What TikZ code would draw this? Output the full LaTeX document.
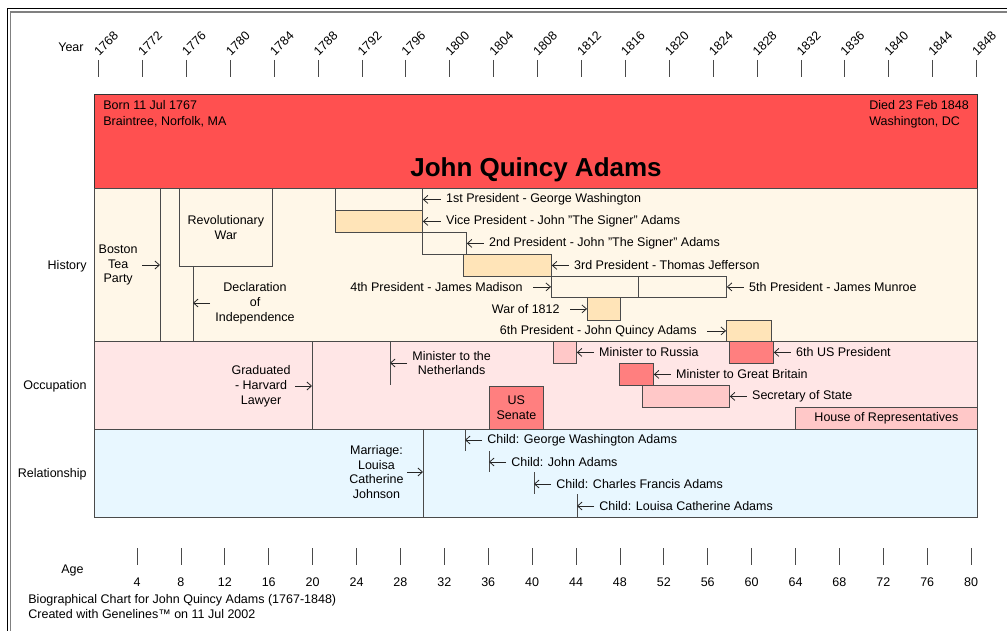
\documentclass[tikz,border=0pt]{standalone}
\usepackage{fontspec}
\setmainfont{Liberation Sans}
\usetikzlibrary{positioning, arrows.meta}

\definecolor{headred}{HTML}{FF5050}
\definecolor{histbg}{HTML}{FFF7E8}
\definecolor{histbox}{HTML}{FFE4B8}
\definecolor{occbg}{HTML}{FFE6E6}
\definecolor{occlight}{HTML}{FFC8C8}
\definecolor{occdark}{HTML}{FF7F7F}
\definecolor{relbg}{HTML}{E8F7FF}
\definecolor{edge}{HTML}{4A4A4A}

\tikzset{
	txt/.style = {font = \fontsize{12.5}{14.8}\selectfont, inner sep = 0pt},
	evbox/.style = {draw = edge, anchor = north west, inner sep = 0pt, txt},
	evline/.style = {edge},
	ptr/.style = {-{Straight Barb[length = 4.5pt, width = 8pt]}, black!85, shorten < = #1},
	ptr/.default = 5pt
}

\begin{document}
\begin{tikzpicture} [x = 1pt, y = -1pt, line width = 0.8pt]
	\useasboundingbox (0,0) rectangle (1007,631);
	% page frame
	\draw [black] (7,631) -- (7,8) -- (1007,8);
	\draw [gray, line width = 1.5pt] (10.5,631) -- (10.5,12) -- (1007,12);

	% year scale
	\node [txt, anchor = east] (year) at (84,47) {Year};
	\foreach \i in {0,...,20} {
		\pgfmathsetmacro{\xx}{98.5 + 43.9*\i}
		\pgfmathtruncatemacro{\yr}{1768 + 4*\i}
		\draw [edge] (\xx,60) -- (\xx,77);
		\node [txt, rotate = 45, anchor = south west] (yr\i) at (\xx+1,57) {\yr};
	}

	% bands
	\draw [black!80, fill = headred] (94,94) rectangle (977,188);
	\draw [edge, fill = histbg] (94,188) rectangle (977,341);
	\draw [edge, fill = occbg] (94,341) rectangle (977,429);
	\draw [edge, fill = relbg] (94,429) rectangle (977,517);

	\node [txt, font = \fontsize{12.5}{16}\selectfont, anchor = north west, align = left] (born) at (103,100) {Born 11 Jul 1767\\Braintree, Norfolk, MA};
	\node [txt, font = \fontsize{12.5}{16}\selectfont, anchor = north west, align = left] (died) at (869,100) {Died 23 Feb 1848\\Washington, DC};
	\node [txt, font = \fontsize{26}{30}\selectfont\bfseries] (name) at (536,170) {John Quincy Adams};

	\node [txt, anchor = east] (hist) at (87,266) {History};
	\node [txt, anchor = east] (occ) at (87,386) {Occupation};
	\node [txt, anchor = east] (rel) at (87,474) {Relationship};

	% history
	\node [evbox, fill = histbg, minimum width = 93pt, minimum height = 78pt, align = center] (revwar) at (179,188) {Revolutionary\\War};
	\draw [evline] (160,188) -- (160,341);
	\coordinate (tea) at (160,265);
	\node [txt, align = center, left = 22pt of tea] (teatxt) {Boston\\Tea\\Party};
	\draw [ptr = 4pt] (teatxt) -- (tea);
	\draw [evline] (193,266) -- (193,341);
	\coordinate (decl) at (193,303);
	\node [txt, align = center, right = 22pt of decl] (decltxt) {Declaration\\of\\Independence};
	\draw [ptr] (decltxt) -- (decl);

	\node [evbox, fill = histbg, minimum width = 87pt, minimum height = 22pt] (pres1) at (335,188) {};
	\node [evbox, fill = histbox, minimum width = 87pt, minimum height = 22pt] (vp) at (335,210) {};
	\node [evbox, fill = histbg, minimum width = 44pt, minimum height = 22pt] (pres2) at (422,232) {};
	\node [evbox, fill = histbox, minimum width = 88pt, minimum height = 22pt] (pres3) at (463,254) {};
	\node [evbox, fill = histbg, minimum width = 87pt, minimum height = 21pt] (pres4) at (551,276) {};
	\node [evbox, fill = histbg, minimum width = 88pt, minimum height = 21pt] (pres5) at (638,276) {};
	\node [evbox, fill = histbox, minimum width = 33pt, minimum height = 23pt] (war) at (587,297) {};
	\node [evbox, fill = histbox, minimum width = 45pt, minimum height = 21pt] (pres6) at (726,320) {};

	\node [txt, right = 23pt of pres1.east] (pres1txt) {1st President - George Washington};
	\node [txt, right = 23pt of vp.east] (vptxt) {Vice President - John "The Signer" Adams};
	\node [txt, right = 22pt of pres2.east] (pres2txt) {2nd President - John "The Signer" Adams};
	\node [txt, right = 22pt of pres3.east] (pres3txt) {3rd President - Thomas Jefferson};
	\node [txt, left = 28pt of pres4.west] (pres4txt) {4th President - James Madison};
	\node [txt, right = 22pt of pres5.east] (pres5txt) {5th President - James Munroe};
	\node [txt, left = 27pt of war.west] (wartxt) {War of 1812};
	\node [txt, left = 29pt of pres6.west] (pres6txt) {6th President - John Quincy Adams};
	\foreach \n in {pres1, vp, pres2, pres3, pres5}
		\draw [ptr] (\n txt) -- (\n);
	\foreach \n in {pres4, war, pres6}
		\draw [ptr = 10pt] (\n txt) -- (\n);

	% occupation
	\draw [evline] (312,341) -- (312,429);
	\coordinate (grad) at (312,386);
	\node [txt, align = center, left = 21pt of grad] (gradtxt) {Graduated\\- Harvard\\Lawyer};
	\draw [ptr = 4pt] (gradtxt) -- (grad);
	\draw [evline] (390,341) -- (390,385);
	\coordinate (neth) at (390,363);
	\node [txt, align = center, right = 22pt of neth] (nethtxt) {Minister to the\\Netherlands};
	\draw [ptr] (nethtxt) -- (neth);

	\node [evbox, fill = occdark, minimum width = 54pt, minimum height = 43pt, align = center] (senate) at (489,386) {US\\Senate};
	\node [evbox, fill = occlight, minimum width = 23pt, minimum height = 22pt] (russia) at (553,341) {};
	\node [evbox, fill = occdark, minimum width = 44pt, minimum height = 22pt] (uspres) at (729,341) {};
	\node [evbox, fill = occdark, minimum width = 34pt, minimum height = 22pt] (britain) at (619,363) {};
	\node [evbox, fill = occlight, minimum width = 87pt, minimum height = 22pt] (state) at (642,385) {};
	\node [evbox, fill = occlight, minimum width = 182pt, minimum height = 22pt] (house) at (795,407) {House of Representatives};

	\node [txt, right = 22pt of russia.east] (russiatxt) {Minister to Russia};
	\node [txt, right = 22pt of uspres.east] (usprestxt) {6th US President};
	\node [txt, right = 22pt of britain.east] (britaintxt) {Minister to Great Britain};
	\node [txt, right = 22pt of state.east] (statetxt) {Secretary of State};
	\foreach \n in {russia, uspres, britain, state}
		\draw [ptr] (\n txt) -- (\n);

	% relationship
	\draw [evline] (423,429) -- (423,517);
	\coordinate (marr) at (423,472);
	\node [txt, align = center, left = 19pt of marr] (marrtxt) {Marriage:\\Louisa\\Catherine\\Johnson};
	\draw [ptr = 3pt] (marrtxt) -- (marr);

	\draw [evline] (465,429) -- (465,451);
	\draw [evline] (489,451) -- (489,472);
	\draw [evline] (534,472) -- (534,494);
	\draw [evline] (577,494) -- (577,517);
	\coordinate (child1) at (465,440);
	\coordinate (child2) at (489,462);
	\coordinate (child3) at (534,484);
	\coordinate (child4) at (577,506);
	\node [txt, right = 22pt of child1] (child1txt) {Child: George Washington Adams};
	\node [txt, right = 22pt of child2] (child2txt) {Child: John Adams};
	\node [txt, right = 22pt of child3] (child3txt) {Child: Charles Francis Adams};
	\node [txt, right = 22pt of child4] (child4txt) {Child: Louisa Catherine Adams};
	\foreach \n in {child1, child2, child3, child4}
		\draw [ptr] (\n txt) -- (\n);

	% age scale
	\node [txt, anchor = east] (age) at (84,570) {Age};
	\foreach \j in {1,...,20} {
		\pgfmathsetmacro{\xx}{93.1 + 43.9*\j}
		\pgfmathtruncatemacro{\ag}{4*\j}
		\draw [edge] (\xx,548) -- (\xx,565);
		\node [txt] (age\j) at (\xx,582) {\ag};
	}

	\node [txt, anchor = north west, align = left] (foot) at (28,594) {Biographical Chart for John Quincy Adams (1767-1848)\\Created with Genelines™ on 11 Jul 2002};
\end{tikzpicture}
\end{document}
